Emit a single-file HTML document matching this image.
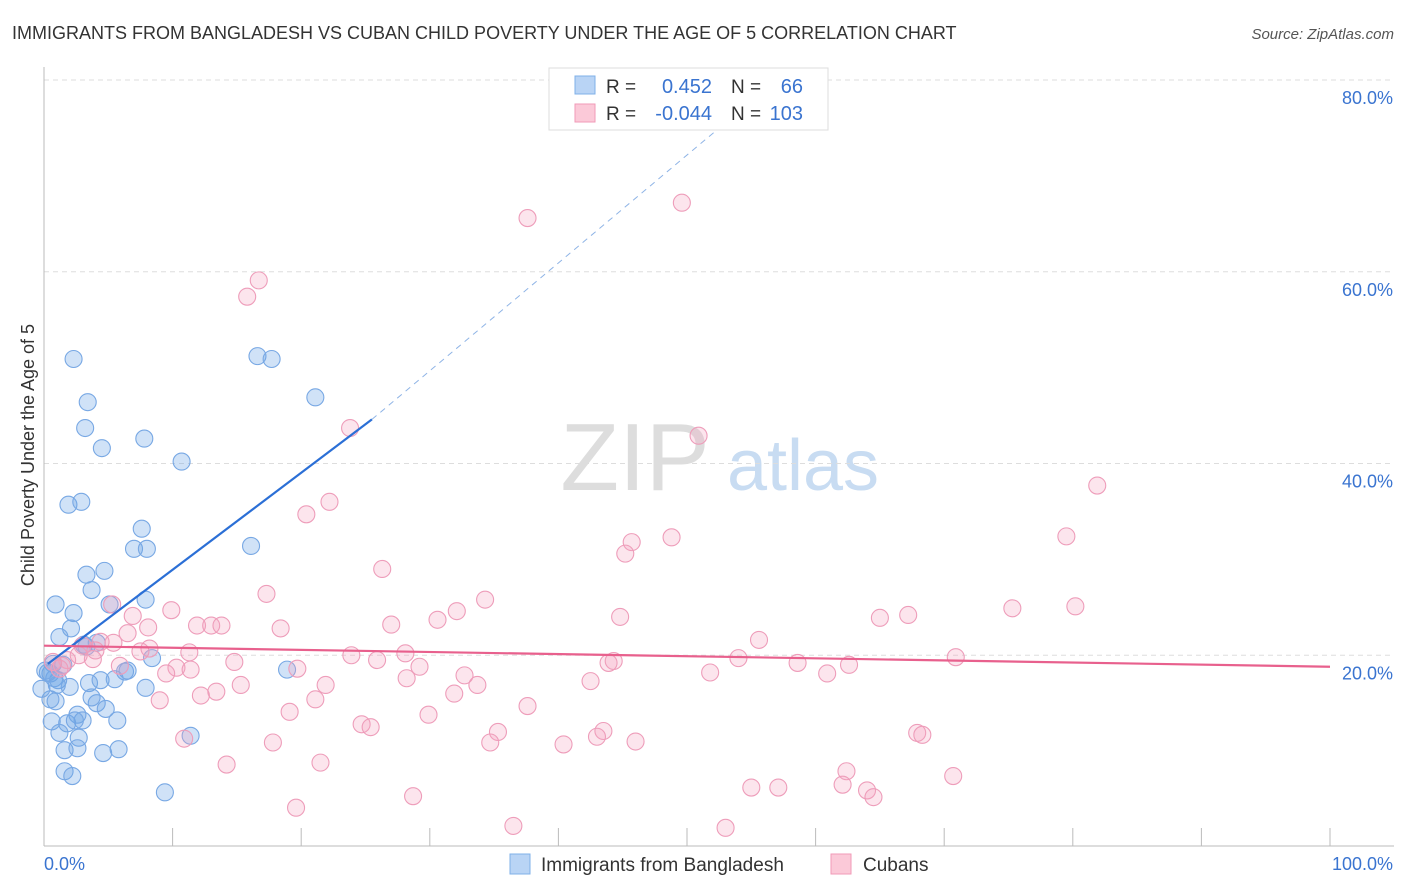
<!DOCTYPE html>
<html><head><meta charset="utf-8"><style>
body{margin:0;background:#fff;font-family:"Liberation Sans",sans-serif;}
#wrap{position:relative;width:1406px;height:892px;overflow:hidden;}
svg text{font-family:"Liberation Sans",sans-serif;}
</style></head><body>
<div id="wrap">
<svg id="chart" width="1406" height="892">
<text x="12" y="39" font-size="18" fill="#333">IMMIGRANTS FROM BANGLADESH VS CUBAN CHILD POVERTY UNDER THE AGE OF 5 CORRELATION CHART</text>
<text x="1394" y="39" font-size="15" fill="#555" font-style="italic" text-anchor="end">Source: ZipAtlas.com</text>
<text x="34" y="455" font-size="18" fill="#333" text-anchor="middle" transform="rotate(-90 34 455)">Child Poverty Under the Age of 5</text>
<g><text x="635" y="490" font-size="96" fill="#ddd" font-family="Liberation Serif" text-anchor="middle">ZIP</text><text x="803" y="490" font-size="72" fill="#c8dcf2" text-anchor="middle">atlas</text></g>
<g id="grid"></g><g id="axes"></g><g id="pts"></g><g id="trend"></g>
<g>
<rect x="549" y="68" width="279" height="62" fill="#fff" stroke="#ddd"/>
<rect x="575" y="76" width="20" height="18" fill="#b9d4f5" stroke="#7fb0e8"/>
<rect x="575" y="104" width="20" height="18" fill="#fbc9d8" stroke="#f09ab7"/>
<text x="606" y="93" font-size="19" fill="#333">R = </text><text x="712" y="93" font-size="20" fill="#3a74d0" text-anchor="end">0.452</text>
<text x="731" y="93" font-size="19" fill="#333">N = </text><text x="803" y="93" font-size="20" fill="#3a74d0" text-anchor="end">66</text>
<text x="606" y="120" font-size="19" fill="#333">R = </text><text x="712" y="120" font-size="20" fill="#3a74d0" text-anchor="end">-0.044</text>
<text x="731" y="120" font-size="19" fill="#333">N = </text><text x="803" y="120" font-size="20" fill="#3a74d0" text-anchor="end">103</text>
</g>
<g>
<rect x="510" y="854" width="20" height="20" fill="#b9d4f5" stroke="#7fb0e8"/>
<text x="541" y="871" font-size="19" fill="#333">Immigrants from Bangladesh</text>
<rect x="831" y="854" width="20" height="20" fill="#fbc9d8" stroke="#f09ab7"/>
<text x="863" y="871" font-size="19" fill="#333">Cubans</text>
</g>
</svg></div>
<script>
const xTicks=[0,10,20,30,40,50,60,70,80,90,100];
const yTicks=[20,40,60,80];
const blueX=[2.3,3.4,3.2,4.5,7.8,10.7,16.6,17.7,21.1,1.9,2.9,7.6,7.0,8.0,16.1,3.3,4.7,3.7,0.9,5.1,7.9,2.3,2.1,1.2,3.1,4.1,3.3,8.4,18.9,6.3,0.5,0.8,1.1,2.0,3.5,4.4,5.5,6.5,7.9,0.9,0.5,4.1,4.8,2.6,0.6,1.8,3.0,1.2,2.7,5.7,1.6,2.6,4.6,5.8,11.4,1.6,2.2,9.4,0.3,1.5,0.7,0.1,1.0,-0.2,3.7,2.4];
const blueY=[50.9,46.4,43.7,41.6,42.6,40.2,51.2,50.9,46.9,35.7,36.0,33.2,31.1,31.1,31.4,28.4,28.8,26.8,25.3,25.3,25.8,24.4,22.8,21.9,21.1,21.3,20.9,19.7,18.5,18.3,18.1,17.6,17.4,16.7,17.1,17.4,17.5,18.4,16.6,15.2,15.4,15.0,14.4,13.8,13.1,12.9,13.2,11.9,11.4,13.2,10.1,10.3,9.8,10.2,11.6,7.9,7.4,5.7,18.2,19.0,19.1,18.4,16.9,16.5,15.6,13.2];
const pinkX=[37.6,49.6,16.7,15.8,23.8,50.9,81.9,22.2,20.4,45.7,48.8,79.5,45.2,26.3,17.3,34.3,80.2,5.3,9.9,32.1,44.8,30.6,75.3,67.2,65.0,6.9,8.1,11.9,13.0,13.8,27.0,18.4,6.5,55.6,4.4,4.0,28.1,54.0,70.9,58.6,62.6,44.3,25.9,14.8,19.7,29.2,51.8,60.9,43.9,1.8,2.7,1.4,3.8,5.9,10.3,11.4,9.5,1.2,0.7,32.7,33.7,42.5,28.2,15.3,21.9,13.4,12.2,31.9,21.1,9.0,37.6,19.1,29.9,24.7,25.4,43.5,43.0,35.3,67.9,68.3,34.7,10.9,17.8,46.0,40.4,14.2,21.5,62.4,70.7,55.0,57.1,62.1,64.0,64.5,28.7,19.6,36.5,53.0,8.2,7.5,3.0,11.3,23.9,5.4];
const pinkY=[65.6,67.2,59.1,57.4,43.7,42.9,37.7,36.0,34.7,31.8,32.3,32.4,30.6,29.0,26.4,25.8,25.1,25.3,24.7,24.6,24.0,23.7,24.9,24.2,23.9,24.1,22.9,23.1,23.1,23.1,23.2,22.8,22.3,21.6,21.4,20.5,20.2,19.7,19.8,19.2,19.0,19.4,19.5,19.3,18.6,18.8,18.2,18.1,19.2,19.5,20.0,18.9,19.6,18.9,18.7,18.5,18.1,18.6,19.3,17.9,16.9,17.3,17.6,16.9,16.9,16.2,15.8,16.0,15.4,15.3,14.7,14.1,13.8,12.8,12.5,12.1,11.5,12.0,11.9,11.7,10.9,11.3,10.9,11.0,10.7,8.6,8.8,7.9,7.4,6.2,6.2,6.5,5.9,5.2,5.3,4.1,2.2,2.0,20.7,20.4,21.0,20.3,20.0,21.3];
const blueTrend=[0.3,19.1,25.5,44.6];
const blueDash=[25.5,44.6,55,77.8];
const pinkTrend=[0,21.0,100,18.8];
const X=v=>44+v*12.86, Y=v=>847-v*9.5875;
const NS='http://www.w3.org/2000/svg';
function mk(t,a,parent){const e=document.createElementNS(NS,t);for(const k in a)e.setAttribute(k,a[k]);parent.appendChild(e);return e;}
const grid=document.getElementById('grid'),axes=document.getElementById('axes'),pts=document.getElementById('pts'),tr=document.getElementById('trend');
yTicks.forEach(v=>{const l=mk('line',{x1:44,x2:1394,y1:Y(v),y2:Y(v),stroke:'#ddd','stroke-dasharray':'5,4'},grid);


const t=mk('text',{x:1393,y:Y(v)+24,'font-size':18,fill:'#3a74d0','text-anchor':'end'},axes);t.textContent=v.toFixed(1)+'%';

});
mk('line',{x1:44,x2:44,y1:67,y2:846,stroke:'#bbb'},axes);
mk('line',{x1:44,x2:1394,y1:846,y2:846,stroke:'#bbb'},axes);
xTicks.forEach(v=>{const l=mk('line',{x1:X(v),x2:X(v),y1:828,y2:846,stroke:'#bbb'},axes);

});
[[0,'start'],[100,'end']].forEach(([v,a])=>{const t=mk('text',{x:v?1393:44,y:870,'font-size':18,fill:'#3a74d0','text-anchor':a},axes);t.textContent=v.toFixed(1)+'%';

});
blueX.forEach((v,i)=>{const c=mk('circle',{cx:X(v),cy:Y(blueY[i]),r:8.5,fill:'rgba(110,165,230,0.32)',stroke:'#78a8e4','stroke-width':1.1},pts);

});
pinkX.forEach((v,i)=>{const c=mk('circle',{cx:X(v),cy:Y(pinkY[i]),r:8.5,fill:'rgba(245,160,190,0.28)',stroke:'#ee9dba','stroke-width':1.1},pts);

});
let l=mk('line',{x1:X(blueTrend[0]),y1:Y(blueTrend[1]),x2:X(blueTrend[2]),y2:Y(blueTrend[3]),stroke:'#2b6fd6','stroke-width':2.2},tr);


l=mk('line',{x1:X(blueDash[0]),y1:Y(blueDash[1]),x2:X(blueDash[2]),y2:Y(blueDash[3]),stroke:'#8fb4e6','stroke-width':1,'stroke-dasharray':'6,5'},tr);


l=mk('line',{x1:X(pinkTrend[0]),y1:Y(pinkTrend[1]),x2:X(pinkTrend[2]),y2:Y(pinkTrend[3]),stroke:'#e8608d','stroke-width':2.2},tr);


</script>
</body></html>
